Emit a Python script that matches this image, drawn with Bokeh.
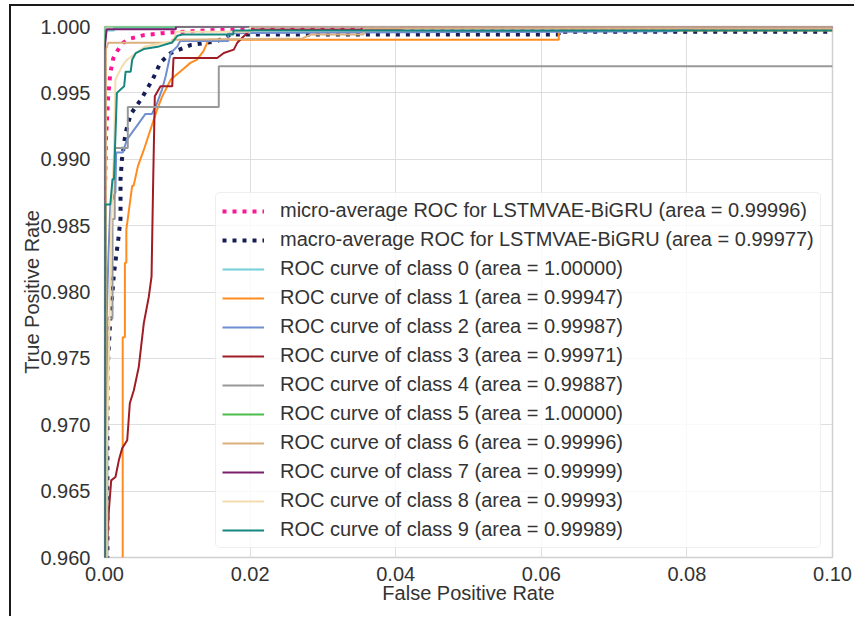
from bokeh.plotting import figure
from bokeh.models import Range1d, FixedTicker, NumeralTickFormatter
from bokeh.embed import file_html
from bokeh.resources import INLINE

# ---------------- data ----------------
model_name = "LSTMVAE-BiGRU"
micro_auc = 0.99996
macro_auc = 0.99977
class_aucs = [1.00000, 0.99947, 0.99987, 0.99971, 0.99887, 1.00000, 0.99996, 0.99999, 0.99993, 0.99989]

fpr_micro = [0.0, 0.0, 0.00005, 0.0002, 0.0005, 0.0008, 0.0012, 0.0018, 0.0026, 0.0036, 0.0054, 0.008, 0.012, 0.016, 0.02, 0.04, 0.1]
tpr_micro = [0.95, 0.975, 0.987, 0.9915, 0.9947, 0.9965, 0.9976, 0.9982, 0.9988, 0.9991, 0.99935, 0.9995, 0.99965, 0.99975, 0.9998, 0.9999, 0.99992]

fpr_macro = [0.0004, 0.0004, 0.0008, 0.0013, 0.0019, 0.0022, 0.0022, 0.0024, 0.0029, 0.0036, 0.0050, 0.0066, 0.0077, 0.0091, 0.0118, 0.0155, 0.0173, 0.0624, 0.0624, 0.1]
tpr_macro = [0.95, 0.974, 0.978, 0.9814, 0.984, 0.9855, 0.9885, 0.990, 0.992, 0.9934, 0.9945, 0.996, 0.9973, 0.998, 0.9986, 0.9989, 0.9994, 0.9994, 0.9996, 0.9996]

fpr_c0 = [0.0, 0.0, 0.0013, 0.0013, 0.0093, 0.0093, 0.1]
tpr_c0 = [0.95, 0.9997, 0.9997, 0.9999, 0.9999, 1.0, 1.0]

fpr_c1 = [0.0025, 0.0025, 0.0028, 0.0028, 0.0030, 0.0030, 0.0038, 0.0040, 0.0046, 0.0054, 0.0063, 0.0072, 0.0079, 0.0091, 0.0107, 0.0118, 0.0127, 0.0136, 0.0143, 0.0624, 0.0624, 0.1]
tpr_c1 = [0.95, 0.9766, 0.9766, 0.9822, 0.9822, 0.9847, 0.9880, 0.9880, 0.9895, 0.9907, 0.9922, 0.9937, 0.9947, 0.9960, 0.99675, 0.99726, 0.9975, 0.99814, 0.9990, 0.9990, 0.9997, 0.9997]

fpr_c2 = [0.0001, 0.0002, 0.0005, 0.0008, 0.0015, 0.0016, 0.0025, 0.0031, 0.0047, 0.0056, 0.0065, 0.0072, 0.0079, 0.0084, 0.0091, 0.0100, 0.0104, 0.0170, 0.0170, 0.0780, 0.0812, 0.1]
tpr_c2 = [0.95, 0.976, 0.982, 0.9866, 0.9875, 0.9905, 0.9905, 0.9915, 0.9927, 0.9934, 0.9934, 0.9942, 0.99525, 0.99625, 0.998, 0.9985, 0.9989, 0.9989, 0.9995, 0.99965, 0.9999, 0.9999]

fpr_c3 = [0.00028, 0.00028, 0.0006, 0.00092, 0.00151, 0.00197, 0.00243, 0.00312, 0.00348, 0.00403, 0.00471, 0.0054, 0.00609, 0.00646, 0.00669, 0.00691, 0.00769, 0.0093, 0.00948, 0.01548, 0.01639, 0.01776, 0.01823, 0.0196, 0.0200, 0.0407, 0.0407, 0.1]
tpr_c3 = [0.95, 0.960, 0.96355, 0.96581, 0.96606, 0.96732, 0.96823, 0.96883, 0.97162, 0.9726, 0.97436, 0.97766, 0.97965, 0.98115, 0.98845, 0.99474, 0.99549, 0.99549, 0.99763, 0.99763, 0.998, 0.99826, 0.99877, 0.99951, 0.99977, 0.99977, 1.0, 1.0]

fpr_c4 = [0.0004, 0.0004, 0.0011, 0.0011, 0.0014, 0.0014, 0.0032, 0.0032, 0.0157, 0.0157, 0.1]
tpr_c4 = [0.95, 0.978, 0.978, 0.9855, 0.9855, 0.99085, 0.99085, 0.99394, 0.99394, 0.997, 0.997]

fpr_c5 = [0.0, 0.0, 0.1]
tpr_c5 = [0.95, 1.0, 1.0]

fpr_c6 = [0.0002, 0.0002, 0.0003, 0.0005, 0.0093, 0.0093, 0.0272, 0.0284, 0.0356, 0.0356, 0.1]
tpr_c6 = [0.95, 0.9984, 0.9984, 0.99877, 0.99877, 0.9990, 0.9991, 0.9994, 0.9994, 0.99985, 0.99985]

fpr_c7 = [0.0, 0.0, 0.0003, 0.0098, 0.0098, 0.1]
tpr_c7 = [0.95, 0.9982, 0.9998, 0.9998, 1.0, 1.0]

fpr_c8 = [0.0003, 0.0003, 0.0006, 0.0008, 0.0010, 0.0013, 0.0015, 0.0024, 0.0031, 0.0056, 0.0095, 0.0098, 0.0200, 0.0200, 0.1]
tpr_c8 = [0.95, 0.968, 0.975, 0.982, 0.9866, 0.9905, 0.996, 0.997, 0.9975, 0.9985, 0.9989, 0.9996, 0.9996, 1.0, 1.0]

fpr_c9 = [0.0001, 0.0001, 0.0008, 0.0011, 0.0013, 0.0017, 0.0027, 0.0029, 0.0036, 0.0038, 0.0043, 0.0054, 0.0075, 0.0093, 0.0100, 0.0107, 0.0177, 0.0177, 0.1]
tpr_c9 = [0.95, 0.9866, 0.9866, 0.9885, 0.9885, 0.995, 0.9955, 0.9966, 0.9966, 0.9975, 0.998, 0.9983, 0.9985, 0.9988, 0.9993, 0.9994, 0.9994, 0.9997, 0.9997]

x_ticks = [0.0, 0.02, 0.04, 0.06, 0.08, 0.10]
y_ticks = [0.960, 0.965, 0.970, 0.975, 0.980, 0.985, 0.990, 0.995, 1.000]

class_fprs = [fpr_c0, fpr_c1, fpr_c2, fpr_c3, fpr_c4, fpr_c5, fpr_c6, fpr_c7, fpr_c8, fpr_c9]
class_tprs = [tpr_c0, tpr_c1, tpr_c2, tpr_c3, tpr_c4, tpr_c5, tpr_c6, tpr_c7, tpr_c8, tpr_c9]
class_colors = ["#73cfd8", "#ff8c1f", "#6f8fd0", "#a01c24", "#999999",
                "#4cbc4c", "#d9b07e", "#7a1f6e", "#f3dcae", "#15877f"]

TXT = "#333333"
FONT = "Liberation Sans"

p = figure(width=845, height=612,
           x_range=Range1d(0.0, 0.1), y_range=Range1d(0.96, 1.0),
           output_backend="svg", toolbar_location=None,
           min_border_left=93, min_border_right=24,
           min_border_top=20, min_border_bottom=61,
           background_fill_color="white", border_fill_color="white")
p.styles = {"margin-top": "4px", "margin-left": "9px",
            "border-top": "2px solid #1a1a1a",
            "border-left": "2px solid #1a1a1a"}

p.outline_line_color = "#d0d0d0"
p.outline_line_width = 1.5

p.xaxis.ticker = FixedTicker(ticks=x_ticks)
p.yaxis.ticker = FixedTicker(ticks=y_ticks)
p.xaxis.formatter = NumeralTickFormatter(format="0.00")
p.yaxis.formatter = NumeralTickFormatter(format="0.000")
for ax in (p.xaxis, p.yaxis):
    ax.axis_line_color = None
    ax.major_tick_line_color = None
    ax.minor_tick_line_color = None
    ax.major_label_text_font = FONT
    ax.major_label_text_font_size = "20px"
    ax.major_label_text_color = TXT
    ax.axis_label_text_font = FONT
    ax.axis_label_text_font_size = "20px"
    ax.axis_label_text_font_style = "normal"
    ax.axis_label_text_color = TXT
p.xaxis.axis_label = "False Positive Rate"
p.yaxis.axis_label = "True Positive Rate"
p.xaxis.major_label_standoff = 3
p.yaxis.major_label_standoff = 8
p.xaxis.axis_label_standoff = -2
p.yaxis.axis_label_standoff = -6

p.xgrid.grid_line_color = "#dedede"
p.ygrid.grid_line_color = "#dedede"
p.xgrid.grid_line_width = 1
p.ygrid.grid_line_width = 1

p.line(fpr_micro, tpr_micro, line_color="#ff1493", line_width=4, line_dash="4 6",
       legend_label=f"micro-average ROC for {model_name} (area = {micro_auc:.5f})")
p.line(fpr_macro, tpr_macro, line_color="#141d56", line_width=4, line_dash="4 6",
       legend_label=f"macro-average ROC for {model_name} (area = {macro_auc:.5f})")
for i in range(10):
    p.line(class_fprs[i], class_tprs[i], line_color=class_colors[i], line_width=2,
           legend_label=f"ROC curve of class {i} (area = {class_aucs[i]:.5f})")

lg = p.legend[0]
lg.location = (111, 9)
lg.margin = 0
lg.padding = 6
lg.spacing = 6
lg.glyph_width = 42
lg.glyph_height = 20
lg.label_height = 20
lg.label_standoff = 16
lg.label_text_font = FONT
lg.label_text_font_size = "20px"
lg.label_text_color = TXT
lg.border_line_color = "#dddddd"
lg.border_line_width = 1
lg.background_fill_color = "white"
lg.background_fill_alpha = 0.8
if "border_radius" in lg.properties():
    lg.border_radius = 5

open("out.html", "w").write(file_html(p, INLINE))
